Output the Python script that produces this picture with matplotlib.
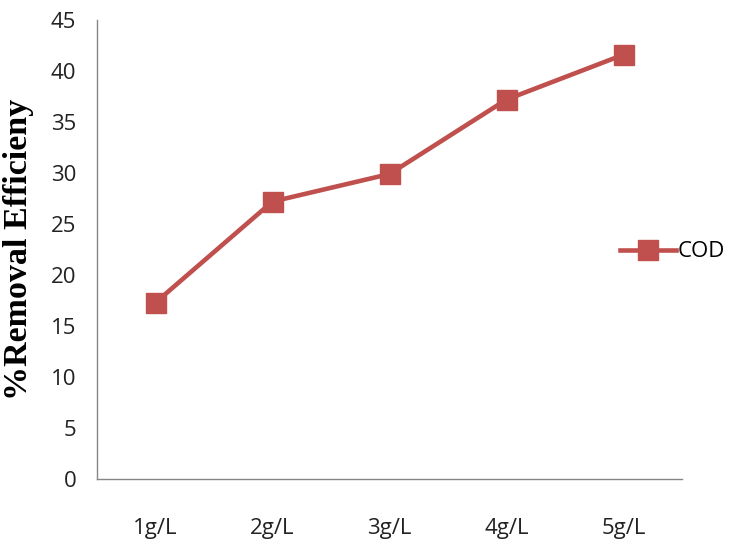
import matplotlib
matplotlib.use("Agg")
import matplotlib.pyplot as plt

# data
doses = ["1g/L", "2g/L", "3g/L", "4g/L", "5g/L"]
cod = [17.3, 27.2, 29.9, 37.2, 41.6]

fig = plt.figure(figsize=(7.42, 5.47), dpi=100)
ax = fig.add_axes([97 / 742, (547 - 479) / 547, (682 - 97) / 742, (479 - 20) / 547])

x = list(range(len(doses)))
ax.plot(x, cod, color="#C0504D", linewidth=3.3, marker="s", markersize=15,
        label="COD")

ax.set_xlim(-0.5, len(doses) - 0.5)
ax.set_ylim(0, 45)
ax.set_yticks(range(0, 46, 5))
ax.set_xticks(x)
ax.set_xticklabels(doses)

for side in ["top", "right"]:
    ax.spines[side].set_visible(False)
for side in ["left", "bottom"]:
    ax.spines[side].set_color("#868686")
    ax.spines[side].set_linewidth(1)

ax.tick_params(axis="both", length=0, labelsize=16, labelcolor="#222222")
ax.tick_params(axis="x", pad=28)
ax.tick_params(axis="y", pad=15)
for lab in ax.get_xticklabels() + ax.get_yticklabels():
    lab.set_family("Open Sans")

ax.set_ylabel("%Removal Efficieny", family="Liberation Serif",
              fontweight="bold", fontsize=24.5, va="center")
ax.yaxis.set_label_coords(-0.135, 0.5)

ax.legend(loc="center left", bbox_to_anchor=(0.86, 0.495), frameon=False,
          prop={"family": "Open Sans", "size": 16}, handlelength=2.5,
          handletextpad=0.1, markerscale=1.0)

fig.savefig("out.png", dpi=100)
